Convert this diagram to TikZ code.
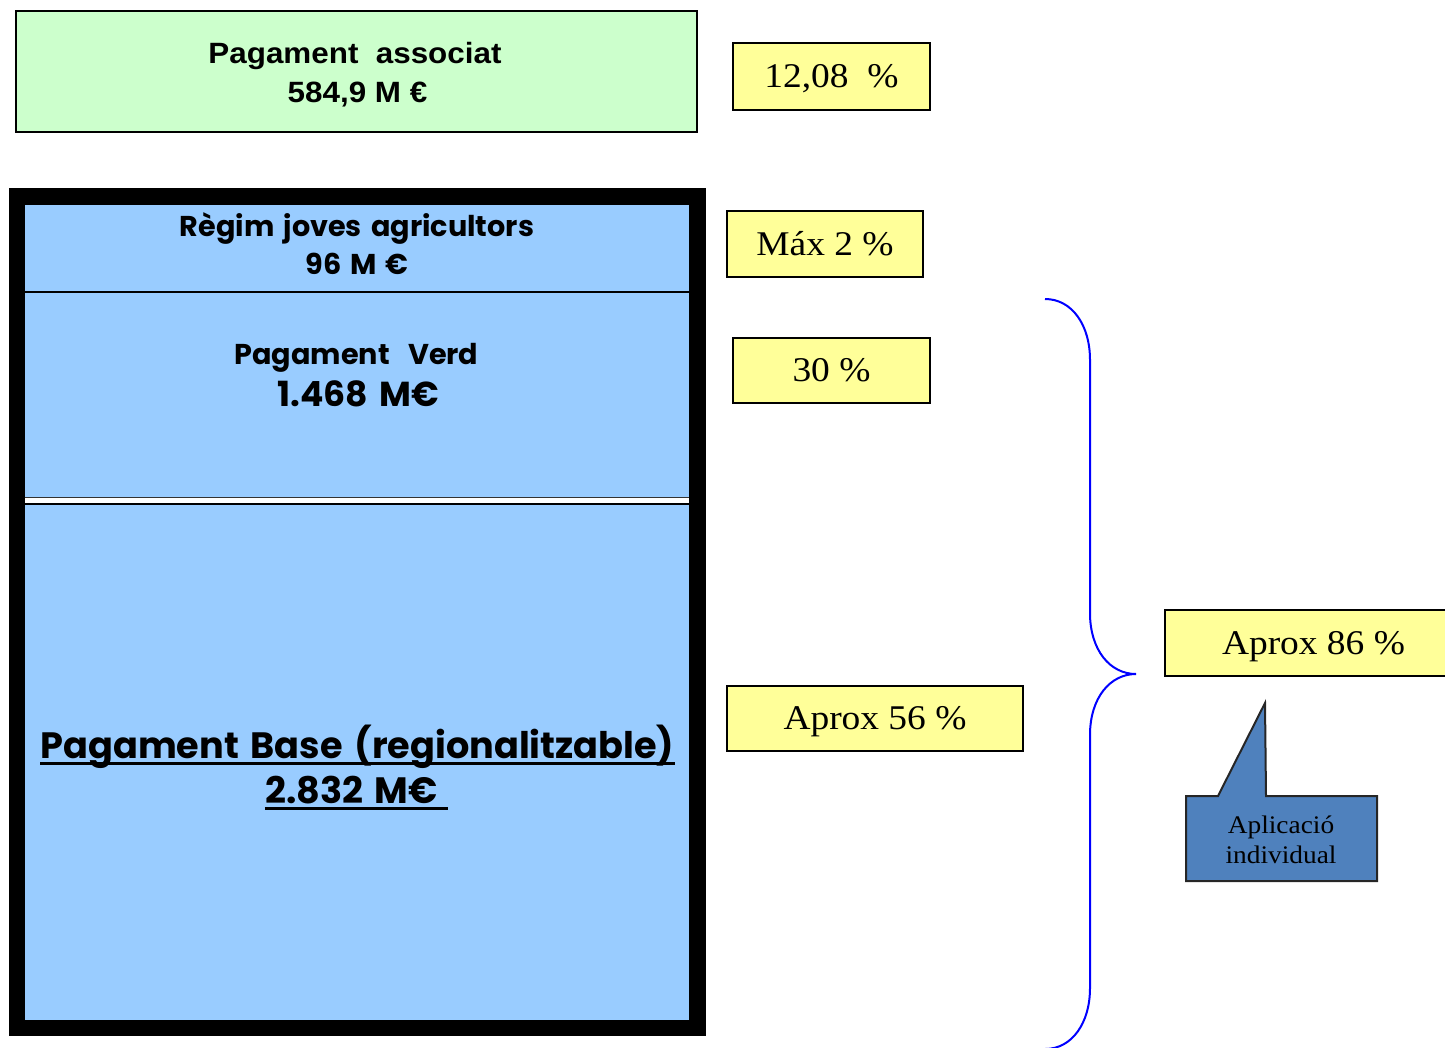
\documentclass[tikz,border=0pt]{standalone}
\usepackage{fontspec}
\newfontfamily\arialb{Liberation Sans}[FakeStretch=1.07]
\newfontfamily\gothic{Poppins}[WordSpace=1.5]
\newfontfamily\cambria{Liberation Serif}[FakeStretch=1.08]
\definecolor{greenbox}{HTML}{CCFFCC}
\definecolor{bluebox}{HTML}{99CCFF}
\definecolor{yellowbox}{HTML}{FFFF99}
\definecolor{callout}{HTML}{4F81BD}
\begin{document}
\begin{tikzpicture}[x=0.75pt,y=-0.75pt,
  pct/.style={draw=black, line width=1.5pt, fill=yellowbox, inner sep=0pt,
    font=\cambria\fontsize{26}{30}\selectfont, text height=17.2pt, text depth=0pt},
  section/.style={fill=bluebox, inner sep=0pt, minimum width=498pt},
  gtext/.style={anchor=base, inner sep=0pt, font=\gothic\bfseries\fontsize{#1}{#1}\selectfont},
  atext/.style={anchor=base, inner sep=0pt, font=\arialb\bfseries\fontsize{22}{26}\selectfont},
  ctext/.style={anchor=base, inner sep=0pt, text=black, font=\cambria\fontsize{19}{24}\selectfont},
  brace/.style={draw=blue, line width=1.5pt}
]
\useasboundingbox (0,0) rectangle (1445,1047);

% top green box
\node (assoc) [draw=black, line width=1.5pt, fill=greenbox, minimum width=510.75pt, minimum height=90.75pt, inner sep=0pt] at (356.5,71.5) {};
\node (assocT1) [atext] at (355,63.5) {Pagament\ \ associat};
\node (assocT2) [atext] at (357.5,102.5) {584,9 M €};

% black frame and blue sections
\node (frame) [fill=black, minimum width=522.75pt, minimum height=636pt, inner sep=0pt] at (357.5,612) {};
\node (joves) [section, minimum height=65.25pt] at (357,248.5) {};
\node (verd) [section, minimum height=153pt] at (357,395) {};
\node (gap) [fill=white, minimum width=498pt, minimum height=6pt, inner sep=0pt] at (357,501) {};
\node (base) [section, minimum height=386.25pt] at (357,762.5) {};
\draw[line width=1.5pt] (joves.south west) -- (joves.south east);
\draw[line width=1pt, draw=black!80] (verd.south west) -- (verd.south east);
\draw[line width=1.5pt] ([yshift=0.75pt]base.north west) -- ([yshift=0.75pt]base.north east);

\node (jovesT1) [gtext=21.5] at (357,236) {Règim joves agricultors};
\node (jovesT2) [gtext=21.5] at (357,274) {96 M €};
\node (verdT1) [gtext=21.5] at (356.5,364) {Pagament\ \ Verd};
\node (verdT2) [gtext=26] at (358,406.7) {1.468 M€};
\node (baseT1) [gtext=27.5] at (357.5,758) {Pagament Base (regionalitzable)};
\node (baseT2) [gtext=27.5] at (351.5,803) {2.832 M€};
\draw[line width=1.8pt] ([yshift=-4pt]baseT1.base west) -- ([yshift=-4pt]baseT1.base east);
\draw[line width=1.8pt] ([yshift=-4pt]baseT2.base west) -- ([yshift=-4pt,xshift=7.5pt]baseT2.base east);

% percentage boxes
\node (p1) [pct, minimum width=147.75pt, minimum height=50.25pt] at (831.5,76.5) {12,08\ \ \%};
\node (p2) [pct, minimum width=147pt, minimum height=49.5pt] at (825,244) {Máx 2 \%};
\node (p3) [pct, minimum width=147.75pt, minimum height=48.75pt] at (831.5,370.5) {30 \%};
\node (p4) [pct, minimum width=222pt, minimum height=48.75pt] at (875,718.5) {Aprox 56 \%};
\node (p5) [pct, minimum width=222.75pt, minimum height=49.5pt] at (1313.5,643) {Aprox 86 \%};

% brace
\coordinate (bTop) at (1045,299);
\coordinate (bTip) at (1136,674);
\coordinate (bBot) at (1045,1049);
\draw[brace] (bTop) .. controls (1072,299) and (1090,325) .. (1090,360) -- (1090,613)
  .. controls (1090,650) and (1110,674) .. (bTip)
  .. controls (1110,674) and (1090,698) .. (1090,735) -- (1090,988)
  .. controls (1090,1023) and (1072,1049) .. (bBot);

% callout
\draw[fill=callout, draw=black!85, line width=1.5pt, line join=miter]
  (1186,796) -- (1218,796) -- (1265,703) -- (1266,796) -- (1377,796) -- (1377,881) -- (1186,881) -- cycle;
\node (callT1) [ctext] at (1281,833.3) {Aplicació};
\node (callT2) [ctext] at (1281,863.3) {individual};
\end{tikzpicture}
\end{document}
